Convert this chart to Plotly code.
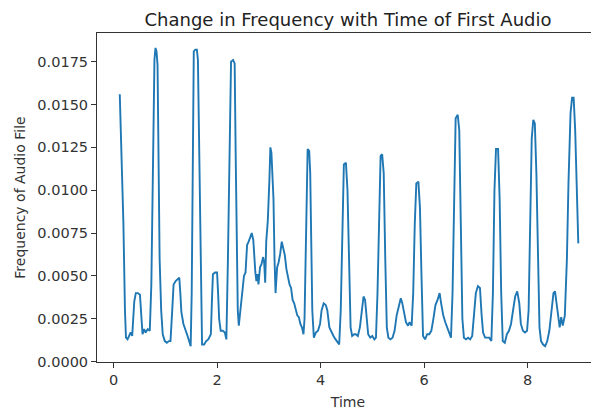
import plotly.graph_objects as go

time = [0.12, 0.16, 0.19, 0.22, 0.24, 0.27, 0.30, 0.33, 0.36, 0.38, 0.40, 0.43, 0.47, 0.51, 0.54, 0.56,
        0.59, 0.62, 0.66, 0.70, 0.73, 0.76, 0.79, 0.81, 0.83, 0.85, 0.87, 0.89, 0.92, 0.95, 0.99, 1.03,
        1.07, 1.10, 1.13, 1.16, 1.20, 1.24, 1.27, 1.29, 1.31, 1.35, 1.39, 1.43, 1.46, 1.49, 1.51, 1.53,
        1.55, 1.58, 1.61, 1.63, 1.65, 1.67, 1.69, 1.71, 1.75, 1.79, 1.83, 1.86, 1.88, 1.90, 1.92, 1.96,
        2.00, 2.02, 2.04, 2.07, 2.11, 2.15, 2.18, 2.21, 2.24, 2.27, 2.31, 2.34, 2.36, 2.38, 2.40, 2.42,
        2.45, 2.48, 2.52, 2.55, 2.58, 2.61, 2.64, 2.67, 2.70, 2.72, 2.74, 2.76, 2.78, 2.80, 2.83, 2.86,
        2.89, 2.91, 2.93, 2.95, 2.98, 3.01, 3.03, 3.05, 3.07, 3.09, 3.11, 3.13, 3.16, 3.19, 3.22, 3.25,
        3.28, 3.31, 3.34, 3.37, 3.40, 3.43, 3.46, 3.49, 3.52, 3.55, 3.58, 3.61, 3.64, 3.67, 3.69, 3.71,
        3.73, 3.75, 3.78, 3.80, 3.82, 3.84, 3.87, 3.91, 3.95, 3.99, 4.02, 4.06, 4.10, 4.13, 4.17, 4.21,
        4.25, 4.29, 4.33, 4.36, 4.39, 4.42, 4.45, 4.49, 4.52, 4.55, 4.58, 4.61, 4.65, 4.68, 4.72, 4.76,
        4.80, 4.83, 4.86, 4.89, 4.92, 4.96, 5.00, 5.04, 5.07, 5.10, 5.13, 5.16, 5.19, 5.22, 5.25, 5.28,
        5.31, 5.35, 5.39, 5.43, 5.47, 5.51, 5.55, 5.58, 5.62, 5.65, 5.69, 5.72, 5.76, 5.79, 5.82, 5.85,
        5.89, 5.92, 5.95, 5.98, 6.02, 6.06, 6.10, 6.14, 6.18, 6.22, 6.26, 6.30, 6.33, 6.37, 6.41, 6.45,
        6.49, 6.52, 6.55, 6.58, 6.61, 6.65, 6.68, 6.71, 6.74, 6.77, 6.81, 6.85, 6.89, 6.93, 6.97, 7.00,
        7.04, 7.08, 7.11, 7.14, 7.18, 7.22, 7.26, 7.30, 7.33, 7.36, 7.39, 7.43, 7.46, 7.49, 7.52, 7.56,
        7.60, 7.64, 7.68, 7.72, 7.76, 7.80, 7.84, 7.87, 7.91, 7.95, 7.99, 8.02, 8.05, 8.08, 8.11, 8.14,
        8.17, 8.20, 8.23, 8.26, 8.30, 8.34, 8.38, 8.42, 8.46, 8.50, 8.53, 8.56, 8.59, 8.62, 8.65, 8.68,
        8.72, 8.76, 8.79, 8.83, 8.86, 8.89, 8.92, 8.96, 8.98]

frequency = [0.0156, 0.0120, 0.0081, 0.0030, 0.0014, 0.0013, 0.0015, 0.0017, 0.0015, 0.0024, 0.0035, 0.0040,
             0.0040, 0.0039, 0.0025, 0.0016, 0.0019, 0.0017, 0.0019, 0.0018, 0.0045, 0.0100, 0.0176, 0.0183,
             0.0181, 0.0173, 0.0100, 0.0060, 0.0030, 0.0016, 0.0012, 0.0011, 0.0012, 0.0012, 0.0028, 0.0045,
             0.0047, 0.0048, 0.0049, 0.0040, 0.0029, 0.0022, 0.0019, 0.0015, 0.0012, 0.0009, 0.0040, 0.0120,
             0.0181, 0.0182, 0.0182, 0.0176, 0.0130, 0.0080, 0.0030, 0.0010, 0.0010, 0.0012, 0.0013, 0.0015,
             0.0016, 0.0035, 0.0051, 0.0052, 0.0052, 0.0040, 0.0025, 0.0018, 0.0018, 0.0017, 0.0013, 0.0060,
             0.0130, 0.0175, 0.0176, 0.0174, 0.0120, 0.0060, 0.0030, 0.0021, 0.0030, 0.0042, 0.0050, 0.0052,
             0.0068, 0.0070, 0.0073, 0.0075, 0.0071, 0.0060, 0.0052, 0.0047, 0.0051, 0.0045, 0.0055, 0.0057,
             0.0061, 0.0058, 0.0046, 0.0070, 0.0082, 0.0105, 0.0125, 0.0122, 0.0112, 0.0095, 0.0060, 0.0040,
             0.0055, 0.0058, 0.0063, 0.0070, 0.0066, 0.0062, 0.0054, 0.0050, 0.0045, 0.0043, 0.0036, 0.0034,
             0.0030, 0.0027, 0.0026, 0.0022, 0.0020, 0.0016, 0.0025, 0.0060, 0.0110, 0.0124, 0.0123, 0.0110,
             0.0070, 0.0030, 0.0014, 0.0017, 0.0018, 0.0022, 0.0030, 0.0034, 0.0033, 0.0030, 0.0020, 0.0017,
             0.0015, 0.0013, 0.0011, 0.0010, 0.0030, 0.0080, 0.0115, 0.0116, 0.0100, 0.0060, 0.0020, 0.0015,
             0.0016, 0.0016, 0.0015, 0.0020, 0.0032, 0.0038, 0.0036, 0.0025, 0.0016, 0.0014, 0.0015, 0.0013,
             0.0014, 0.0040, 0.0090, 0.0120, 0.0121, 0.0110, 0.0060, 0.0020, 0.0014, 0.0013, 0.0014, 0.0018,
             0.0027, 0.0033, 0.0037, 0.0034, 0.0027, 0.0023, 0.0021, 0.0023, 0.0021, 0.0040, 0.0080, 0.0104,
             0.0105, 0.0090, 0.0050, 0.0015, 0.0013, 0.0016, 0.0016, 0.0018, 0.0025, 0.0033, 0.0036, 0.0040,
             0.0034, 0.0027, 0.0023, 0.0020, 0.0017, 0.0014, 0.0040, 0.0100, 0.0142, 0.0144, 0.0135, 0.0080,
             0.0025, 0.0014, 0.0013, 0.0014, 0.0013, 0.0015, 0.0028, 0.0040, 0.0044, 0.0043, 0.0028, 0.0017,
             0.0014, 0.0014, 0.0014, 0.0012, 0.0040, 0.0100, 0.0124, 0.0124, 0.0095, 0.0040, 0.0012, 0.0011,
             0.0016, 0.0018, 0.0022, 0.0030, 0.0038, 0.0041, 0.0034, 0.0022, 0.0018, 0.0017, 0.0018, 0.0030,
             0.0080, 0.0130, 0.0141, 0.0139, 0.0110, 0.0060, 0.0020, 0.0012, 0.0010, 0.0009, 0.0012, 0.0018,
             0.0030, 0.0040, 0.0041, 0.0034, 0.0024, 0.0020, 0.0026, 0.0021, 0.0027, 0.0060, 0.0104, 0.0145,
             0.0154, 0.0154, 0.0135, 0.0090, 0.0069]

x_ticks = [0, 2, 4, 6, 8]
y_ticks = [0.0, 0.0025, 0.005, 0.0075, 0.01, 0.0125, 0.015, 0.0175]

title_text = "Change in Frequency with Time of First Audio"
x_label = "Time"
y_label = "Frequency of Audio File"

fig = go.Figure()
fig.add_trace(go.Scatter(x=time, y=frequency, mode="lines",
                         line=dict(color="#1f77b4", width=1.9), showlegend=False))

font_family = "DejaVu Sans"
axis_common = dict(showgrid=False, zeroline=False, showline=True, linecolor="#333333",
                   linewidth=1, mirror=True, ticks="outside", ticklen=5, tickcolor="#333333",
                   automargin=False,
                   tickfont=dict(family=font_family, size=14.5, color="#333333"))

# page body has an 8px margin, so the figure is sized/offset to compensate
fig.update_layout(
    width=591, height=406,
    margin=dict(l=89, r=0, t=25, b=52),
    paper_bgcolor="white", plot_bgcolor="white",
    title=dict(text=title_text, x=0.5, xref="paper", xanchor="center",
               y=1 - 12 / 406, yref="container", yanchor="middle", automargin=False,
               font=dict(family=font_family, size=18, color="#222222")),
    xaxis=dict(range=[-0.32, 9.38], tickvals=x_ticks, ticktext=[str(v) for v in x_ticks],
               title=dict(text=x_label, font=dict(family=font_family, size=14, color="#333333"), standoff=9),
               **axis_common),
    yaxis=dict(range=[-0.00002, 0.01917], tickvals=y_ticks, tickformat=".4f",
               title=dict(text=y_label, font=dict(family=font_family, size=14, color="#333333"), standoff=8),
               **axis_common),
)

fig.write_html("out.html")
